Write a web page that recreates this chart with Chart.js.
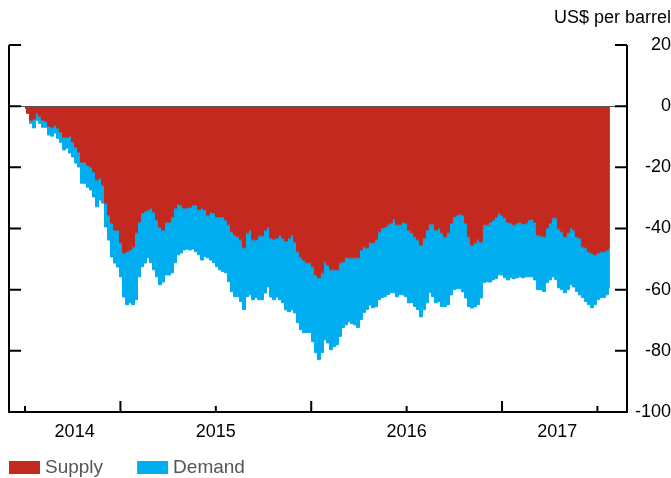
<!DOCTYPE html>
<html>
<head>
<meta charset="utf-8">
<title>Supply and demand contributions to oil price</title>
<script src="https://cdn.jsdelivr.net/npm/chart.js@4.4.1/dist/chart.umd.min.js"></script>
<style>
  html, body { margin: 0; padding: 0; background: #fff; }
  #oilChart { display: block; }
</style>
</head>
<body>
<canvas id="oilChart" width="671" height="478"></canvas>
<script>
// Cumulative change in the oil price since mid-2014, split into supply and demand
// One observation every ~5.7 days starting mid-2014
const firstObs = 2014.5;
const obsStep = 0.01572; // years between observations

const supply = [
    -0.7, -2.3, -4.6, -4.2, -2.3, -3.3, -4.6, -4.9, -6.5, -6.9, -6.2, -7.2,
    -8.5, -10.1, -10.1, -9.8, -11.7, -13.4, -15.0, -18.3, -18.3, -19.3, -19.9, -21.5, -24.1, -23.5, -25.8, -31.7, -35.6, -38.2, -40.5,
    -40.5, -44.7, -48.0, -47.6, -47.0, -46.0, -41.4, -37.9, -34.9, -34.3, -33.9, -33.3, -34.6, -37.2, -39.5, -40.5, -37.9, -37.9, -36.2, -33.3,
    -32.0, -32.3, -33.3, -33.3, -33.0, -32.3, -32.3, -33.9, -33.3, -33.9, -35.6, -34.6, -34.9, -36.2,
    -36.2, -36.2, -37.2, -38.8, -41.1, -42.1, -42.7, -43.7, -46.3, -41.4, -40.5, -43.7, -43.7, -42.4, -42.4, -40.5, -39.5, -43.1, -43.4, -43.1,
    -42.1, -43.1, -44.1, -43.1, -42.1, -44.4, -47.6, -49.3, -50.3, -51.2, -51.2, -52.5,
    -55.1, -56.1, -54.5, -50.9, -51.9, -53.5, -53.5, -53.5, -51.2, -50.9, -49.3, -49.6, -49.6, -49.6, -49.6, -47.0, -46.0, -46.3, -44.4, -44.7,
    -43.7, -41.1, -39.8, -39.5, -38.8, -38.2, -36.9, -38.8, -38.8, -37.9, -38.2, -40.5, -41.4, -42.7, -43.7,
    -45.4, -43.1, -40.5, -38.5, -38.5, -40.5, -39.8, -41.4, -42.7, -41.4, -38.2, -36.2, -35.6, -35.2, -35.6, -38.2, -42.7, -45.4, -44.7, -43.7,
    -44.4, -38.8, -38.8, -37.9, -37.2, -36.2, -34.9, -35.6, -36.5, -37.9, -38.2, -38.8, -38.2,
    -37.9, -38.5, -38.2, -37.2, -36.9, -37.9, -42.1, -42.4, -42.7, -39.8, -38.2, -36.5, -36.5, -40.1, -41.1, -42.7, -41.4, -39.8, -40.5, -42.7,
    -43.1, -46.0, -46.3, -47.6, -48.0, -48.6, -48.0, -47.6, -47.6, -47.0, -46.3
];

const demand = [
    0, 0, -1.0, -2.9, -2.3, -2.3, -2.3, -2.0, -2.9, -2.9, -2.6, -3.3,
    -3.3, -4.2, -3.6, -5.5, -4.9, -5.2, -4.9, -6.9, -6.9, -7.2, -7.5, -8.2, -8.8, -7.2, -5.9, -7.8, -8.2, -11.1, -10.8,
    -12.1, -11.1, -14.4, -17.3, -17.3, -18.9, -21.9, -17.9, -17.6, -17.0, -15.7, -17.9, -18.9, -18.6, -18.9, -17.0, -17.3, -17.3, -18.3, -17.9,
    -16.6, -15.7, -13.7, -13.4, -14.0, -14.4, -15.3, -14.7, -17.0, -15.3, -14.0, -15.7, -16.3, -16.3,
    -17.3, -17.9, -17.3, -18.6, -19.6, -20.2, -19.6, -20.2, -20.2, -20.9, -21.2, -19.6, -18.9, -20.9, -20.9, -20.6, -19.6, -19.3, -19.9, -19.3,
    -21.2, -21.2, -22.5, -24.1, -24.5, -23.2, -23.2, -23.8, -23.8, -22.8, -22.8, -24.5,
    -25.5, -26.8, -26.1, -25.5, -25.5, -26.1, -25.1, -24.5, -24.1, -21.5, -22.2, -20.9, -21.5, -21.9, -22.8, -22.8, -21.5, -20.2, -20.6, -21.2,
    -21.9, -22.2, -22.8, -22.8, -22.8, -22.8, -24.1, -23.5, -22.8, -23.8, -24.1, -23.8, -22.8, -22.8, -22.8,
    -23.5, -23.5, -23.8, -22.5, -23.8, -23.8, -24.1, -24.1, -22.8, -23.5, -23.5, -23.8, -24.1, -24.5, -25.1, -24.5, -22.8, -20.6, -20.9, -21.2,
    -18.3, -18.9, -18.6, -19.6, -19.6, -20.2, -20.2, -19.6, -19.6, -18.9, -17.9, -17.6, -17.9,
    -17.9, -17.6, -17.6, -18.6, -18.9, -18.9, -17.9, -17.6, -17.9, -17.9, -18.6, -19.3, -20.2, -19.3, -18.9, -18.3, -18.6, -18.6, -18.6, -17.9,
    -18.6, -16.6, -17.6, -17.3, -17.9, -16.3, -15.3, -15.0, -15.0, -14.7, -13.1
];

const yTicks = [20, 0, -20, -40, -60, -80, -100];
const yearStarts = [2015, 2016, 2017];
const midYears = [2014.5, 2015.5, 2016.5, 2017.5];
const yearLabels = ['2014', '2015', '2016', '2017'];
const yearLabelAt = [2014.76, 2015.5, 2016.5, 2017.29];

const RED = '#c4291f';
const BLUE = '#00aeef';

function toPoints(values) {
    return values.map((v, i) => ({ x: firstObs + i * obsStep, y: v }));
}

// axis frame, inward ticks, zero line and legend
const framePlugin = {
    id: 'frame',
    afterDatasetsDraw(chart) {
        const { ctx, chartArea: area } = chart;
        const xs = chart.scales.x;
        const ys = chart.scales.y;
        ctx.save();

        const zero = Math.round(ys.getPixelForValue(0)) + 0.5;
        ctx.strokeStyle = '#555';
        ctx.lineWidth = 1;
        ctx.beginPath();
        ctx.moveTo(area.left, zero);
        ctx.lineTo(area.right, zero);
        ctx.stroke();

        ctx.strokeStyle = '#000';
        ctx.lineWidth = 2;
        ctx.beginPath();
        ctx.moveTo(area.left, area.top);
        ctx.lineTo(area.left, area.bottom);
        ctx.moveTo(area.right, area.top);
        ctx.lineTo(area.right, area.bottom);
        ctx.moveTo(area.left - 1, area.bottom);
        ctx.lineTo(area.right + 1, area.bottom);
        yTicks.forEach(v => {
            const py = ys.getPixelForValue(v);
            ctx.moveTo(area.left, py);
            ctx.lineTo(area.left + 12, py);
            ctx.moveTo(area.right - 12, py);
            ctx.lineTo(area.right, py);
        });
        yearStarts.forEach(v => {
            const px = xs.getPixelForValue(v);
            ctx.moveTo(px, area.bottom);
            ctx.lineTo(px, area.bottom - 11);
        });
        midYears.forEach(v => {
            const px = xs.getPixelForValue(v);
            ctx.moveTo(px, area.bottom);
            ctx.lineTo(px, area.bottom - 6);
        });
        ctx.stroke();
        ctx.restore();
    },
    afterDraw(chart) {
        const ctx = chart.ctx;
        ctx.save();
        ctx.font = '19px "Liberation Sans", Arial, sans-serif';
        ctx.textBaseline = 'middle';
        ctx.textAlign = 'left';
        let lx = 9;
        const ly = chart.height - 17;
        chart.data.datasets.forEach(ds => {
            ctx.fillStyle = ds.backgroundColor;
            ctx.fillRect(lx, ly, 31, 13);
            ctx.fillStyle = '#555';
            ctx.fillText(ds.label, lx + 36, ly + 7);
            lx += 36 + ctx.measureText(ds.label).width + 34;
        });
        ctx.restore();
    }
};

Chart.defaults.font.family = '"Liberation Sans", Arial, Helvetica, sans-serif';
Chart.defaults.color = '#000';

const ctx = document.getElementById('oilChart').getContext('2d');
new Chart(ctx, {
    type: 'line',
    data: {
        datasets: [
            {
                label: 'Supply',
                data: toPoints(supply),
                backgroundColor: RED,
                borderColor: RED,
                borderWidth: 1,
                fill: 'origin',
                stepped: 'middle',
                pointRadius: 0
            },
            {
                label: 'Demand',
                data: toPoints(demand),
                backgroundColor: BLUE,
                borderColor: BLUE,
                borderWidth: 1,
                fill: '-1',
                stepped: 'middle',
                pointRadius: 0
            }
        ]
    },
    options: {
        responsive: false,
        animation: false,
        devicePixelRatio: 1,
        events: [],
        layout: {
            padding: { top: 0, left: 9, right: 0, bottom: 36 }
        },
        plugins: {
            legend: { display: false },
            tooltip: { enabled: false },
            title: {
                display: true,
                text: 'US$ per barrel',
                align: 'end',
                color: '#000',
                font: { size: 18, weight: 'normal' },
                padding: { top: 7, bottom: 16.4 }
            }
        },
        scales: {
            x: {
                type: 'linear',
                min: 2014.416,
                max: 2017.655,
                grid: { display: false },
                border: { display: false },
                afterBuildTicks: function(scale) {
                    scale.ticks = yearLabelAt.map(v => ({ value: v }));
                },
                afterFit: function(scale) {
                    scale.height = 30;
                },
                ticks: {
                    autoSkip: false,
                    maxRotation: 0,
                    padding: 1,
                    font: { size: 18 },
                    callback: function(value, index) {
                        return yearLabels[index];
                    }
                }
            },
            y: {
                position: 'right',
                stacked: true,
                min: -100,
                max: 20,
                grid: { display: false, drawTicks: false },
                border: { display: false },
                afterFit: function(scale) {
                    scale.width = 44;
                },
                ticks: {
                    stepSize: 20,
                    crossAlign: 'far',
                    padding: 4,
                    font: { size: 18 }
                }
            }
        }
    },
    plugins: [framePlugin]
});
</script>
</body>
</html>
